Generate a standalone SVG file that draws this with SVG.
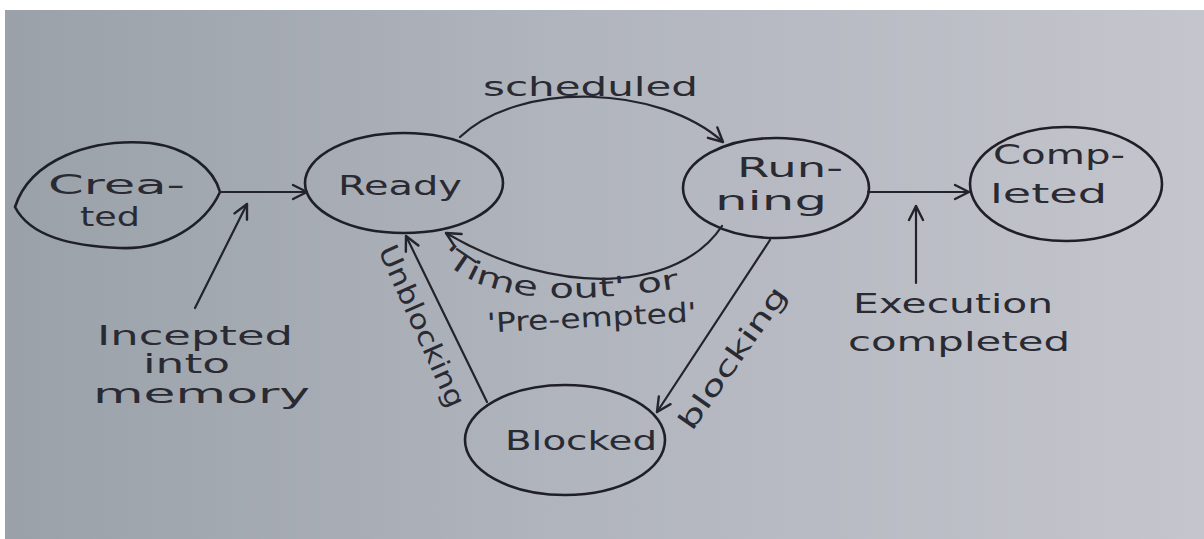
<svg xmlns="http://www.w3.org/2000/svg" width="1204" height="539" viewBox="0 0 1204 539">
  <defs>
    <linearGradient id="paper" x1="0" y1="0" x2="1" y2="0">
      <stop offset="0" stop-color="#9aa1a9"/>
      <stop offset="0.45" stop-color="#b0b4bc"/>
      <stop offset="1" stop-color="#c4c5cd"/>
    </linearGradient>
    <marker id="arrow" markerUnits="userSpaceOnUse" markerWidth="20" markerHeight="20" viewBox="-16 -10 20 20" refX="0" refY="0" orient="auto">
      <path d="M -14 -7 L 0 0 L -14 7" fill="none" stroke="#23232b" stroke-width="2.4" stroke-linecap="round" stroke-linejoin="round"/>
    </marker>
    <style>
      .state { fill: none; stroke: #1f1f27; stroke-width: 2.6; }
      .edge { fill: none; stroke: #23232b; stroke-width: 2.2; stroke-linecap: round; marker-end: url(#arrow); }
      text { font-family: "DejaVu Sans", "Liberation Sans", sans-serif; fill: #2a2a33; font-size: 27px; }
    </style>
  </defs>

  <!-- sheet of paper -->
  <rect x="0" y="0" width="1204" height="539" fill="#ffffff"/>
  <rect x="5" y="10" width="1199" height="529" fill="url(#paper)"/>

  <!-- states -->
  <g id="created">
    <path class="state" d="M 15 207 C 30 160, 90 138, 150 143 C 190 148, 214 170, 220 192 C 205 225, 165 250, 120 248 C 70 246, 30 236, 15 207 Z"/>
    <text x="48" y="194" font-size="26" textLength="137" lengthAdjust="spacingAndGlyphs">Crea-</text>
    <text x="80" y="226" font-size="26" textLength="60" lengthAdjust="spacingAndGlyphs">ted</text>
  </g>

  <g id="ready">
    <ellipse class="state" cx="404" cy="183" rx="99" ry="50"/>
    <text x="338" y="195" font-size="28" textLength="124" lengthAdjust="spacingAndGlyphs">Ready</text>
  </g>

  <g id="running">
    <ellipse class="state" cx="776" cy="188" rx="93" ry="50"/>
    <text x="737" y="177" textLength="106" lengthAdjust="spacingAndGlyphs">Run-</text>
    <text x="715" y="210" textLength="112" lengthAdjust="spacingAndGlyphs">ning</text>
  </g>

  <g id="completed">
    <ellipse class="state" cx="1066" cy="184" rx="96" ry="57"/>
    <text x="993" y="164" font-size="28" textLength="132" lengthAdjust="spacingAndGlyphs">Comp-</text>
    <text x="990" y="203" font-size="28" textLength="117" lengthAdjust="spacingAndGlyphs">leted</text>
  </g>

  <g id="blocked">
    <ellipse class="state" cx="565" cy="440" rx="100" ry="55"/>
    <text x="505" y="450" font-size="31" textLength="152" lengthAdjust="spacingAndGlyphs">Blocked</text>
  </g>

  <!-- transitions -->
  <g id="connectors">
    <path id="e-admit" class="edge" d="M 220 192 L 307 192"/>
    <path id="e-admit-note" class="edge" d="M 195 308 L 247 204"/>
    <path id="e-schedule" class="edge" d="M 460 137 C 520 80, 660 85, 723 142"/>
    <path id="e-exit" class="edge" d="M 868 192 L 969 192"/>
    <path id="e-exit-note" class="edge" d="M 916 283 L 916 206"/>
    <path id="e-preempt" class="edge" d="M 722 226 C 680 290, 560 300, 446 233"/>
    <path id="e-unblock" class="edge" d="M 487 402 L 406 236"/>
    <path id="e-block" class="edge" d="M 770 240 L 657 412"/>
  </g>

  <!-- transition labels -->
  <g id="labels">
    <path id="timeout-base" d="M 438 256 C 480 300, 560 308, 692 286" fill="none"/>
    <text x="483" y="96" font-size="31" textLength="215" lengthAdjust="spacingAndGlyphs">scheduled</text>
    <text><textPath href="#timeout-base" textLength="252" lengthAdjust="spacingAndGlyphs">'Time out' or</textPath></text>
    <text x="487" y="327" font-size="26" textLength="210" lengthAdjust="spacingAndGlyphs" transform="rotate(-3 592 322)">'Pre-empted'</text>
    <text x="0" y="0" font-size="26" textLength="175" lengthAdjust="spacingAndGlyphs" transform="translate(378 250) rotate(66)">Unblocking</text>
    <text x="0" y="0" textLength="168" lengthAdjust="spacingAndGlyphs" transform="translate(692 432) rotate(-55)">blocking</text>
    <text x="853" y="313" textLength="200" lengthAdjust="spacingAndGlyphs">Execution</text>
    <text x="848" y="351" font-size="28" textLength="222" lengthAdjust="spacingAndGlyphs">completed</text>
    <text x="97" y="345" font-size="26" textLength="196" lengthAdjust="spacingAndGlyphs">Incepted</text>
    <text x="143" y="373" font-size="23" textLength="87" lengthAdjust="spacingAndGlyphs">into</text>
    <text x="93" y="403" font-size="26" textLength="217" lengthAdjust="spacingAndGlyphs">memory</text>
  </g>
</svg>
